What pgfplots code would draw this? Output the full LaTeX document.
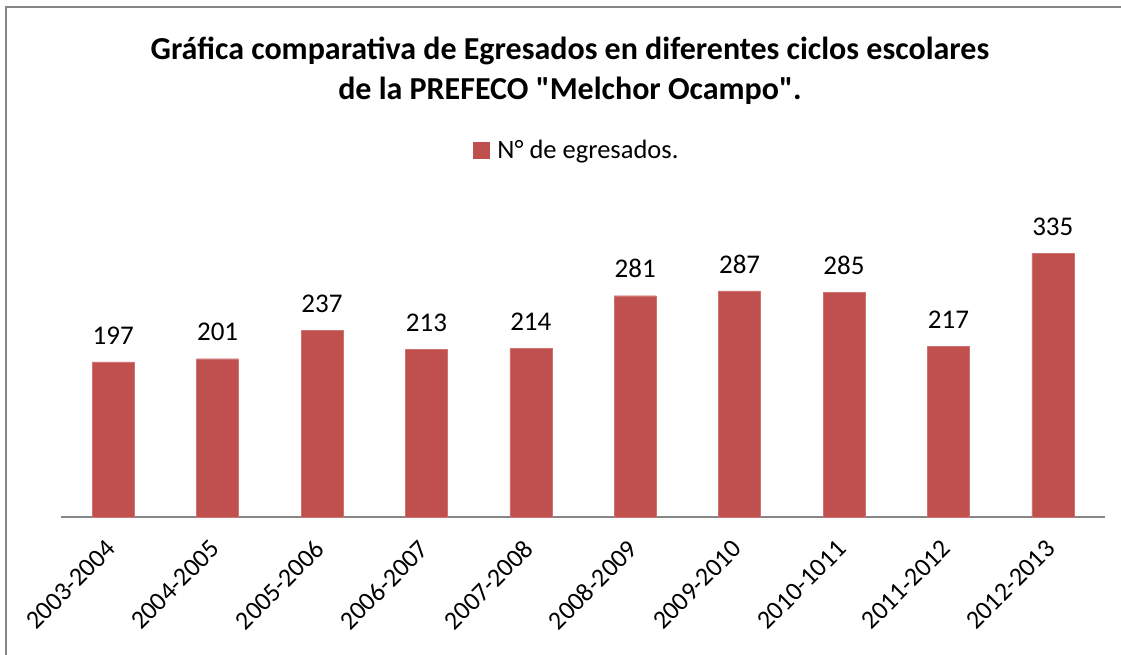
\documentclass[border=0pt]{standalone}
\usepackage{fontspec}
\setmainfont{Carlito}
\usepackage{pgfplots}
\pgfplotsset{compat=1.18}
\definecolor{barred}{HTML}{C0504D}
\definecolor{framegray}{HTML}{868686}
\begin{document}
\begin{tikzpicture}
\path[use as bounding box] (0pt,0pt) rectangle (1121pt,654pt);
\draw[framegray, line width=2pt] (6pt,-5pt) -- (6pt,647pt) -- (1130pt,647pt);
\node[font=\fontsize{32}{40}\selectfont\bfseries, align=center] at (570pt,583pt) {Gráfica comparativa de Egresados en diferentes ciclos escolares\\de la PREFECO \textquotedbl Melchor Ocampo\textquotedbl.};
\begin{axis}[
  at={(61pt,137pt)}, anchor=south west,
  width=1044pt, height=315pt, scale only axis,
  xmin=-0.5, xmax=9.5, ymin=0, ymax=400,
  axis x line*=bottom, axis y line=none,
  x axis line style={draw=framegray, line width=1.5pt, -},
  xtick={0,...,9}, major tick length=0pt,
  xticklabels={2003-2004,2004-2005,2005-2006,2006-2007,2007-2008,2008-2009,2009-2010,2010-1011,2011-2012,2012-2013},
  xticklabel style={rotate=45, anchor=east, font=\fontsize{26}{30}\selectfont, inner sep=0pt, xshift=-21pt, yshift=-18pt},
  ybar, bar width=42pt,
  nodes near coords,
  every node near coord/.append style={font=\fontsize{27}{30}\selectfont, black, yshift=14pt},
  /pgf/number format/assume math mode=true,
  legend style={at={(axis description cs:0.494,1.165)}, anchor=center, draw=none, fill=none, font=\fontsize{26.5}{30}\selectfont},
  legend image code/.code={\fill[barred] (0pt,-8pt) rectangle (16pt,8pt);},
]
\addplot[fill=barred, draw=barred!80!white] coordinates {(0,197) (1,201) (2,237) (3,213) (4,214) (5,281) (6,287) (7,285) (8,217) (9,335)};
\addlegendentry{\hspace{6pt}N° de egresados.}
\end{axis}
\end{tikzpicture}
\end{document}
